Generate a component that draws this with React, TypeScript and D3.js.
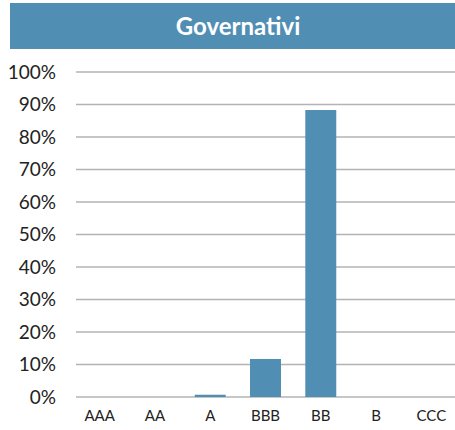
import React from 'react';
import * as d3 from 'd3';

const ratings = ['AAA', 'AA', 'A', 'BBB', 'BB', 'B', 'CCC'];
const weights = [0, 0, 0.007, 0.117, 0.883, 0, 0];
const yTicks = [0, 0.1, 0.2, 0.3, 0.4, 0.5, 0.6, 0.7, 0.8, 0.9, 1];

const BLUE = '#508eb4';

export default function App() {
  const width = 455;
  const height = 430;

  const x = d3.scaleBand().domain(ratings).range([72, 459]).paddingInner(0.44).paddingOuter(0.22);
  const y = d3.scaleLinear().domain([0, 1]).range([397, 72]);
  const fmt = d3.format('.0%');

  return (
    <svg
      width={width}
      height={height}
      style={{ position: 'absolute', left: 0, top: 0, fontFamily: 'Lato, "Noto Sans", sans-serif' }}
    >
      <rect x={10} y={3} width={445} height={46} fill={BLUE} />
      <text x={238} y={35} textAnchor="middle" fill="#fff" fontSize={24} fontWeight="bold">
        Governativi
      </text>

      {yTicks.map((t) => (
        <g key={t}>
          <line x1={76} x2={455} y1={y(t)} y2={y(t)} stroke="#b3b3b3" strokeWidth={1.5} />
          <text x={56} y={y(t)} dy="0.36em" textAnchor="end" fontSize={19} fill="#222">
            {fmt(t)}
          </text>
        </g>
      ))}

      {ratings.map((r, i) => (
        <rect
          key={r}
          x={x(r)}
          y={y(weights[i])}
          width={x.bandwidth()}
          height={y(0) - y(weights[i])}
          fill={BLUE}
        />
      ))}

      {ratings.map((r) => (
        <text key={r} x={(x(r) || 0) + x.bandwidth() / 2} y={421} textAnchor="middle" fontSize={15} fill="#222">
          {r}
        </text>
      ))}
    </svg>
  );
}
